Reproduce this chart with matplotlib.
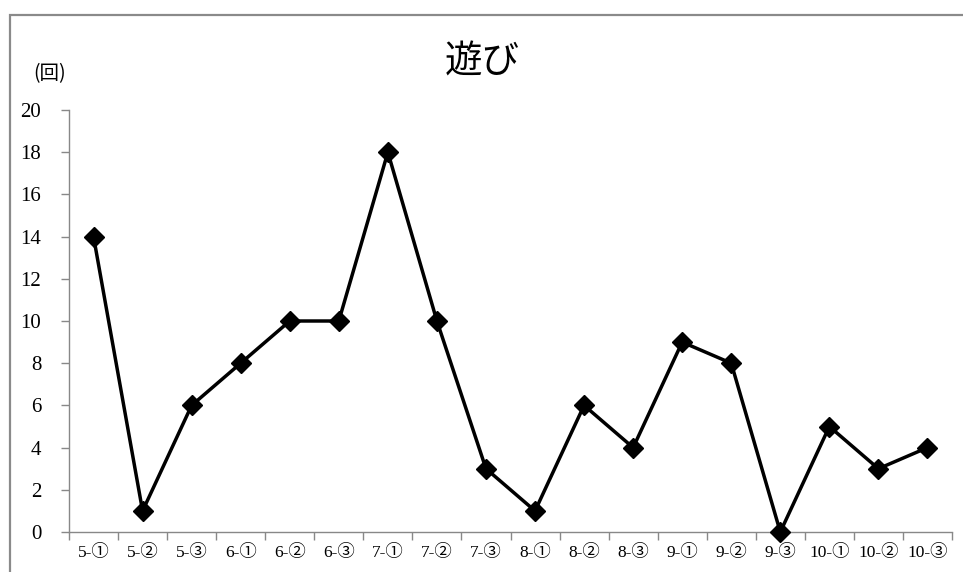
import matplotlib
matplotlib.use("Agg")
import matplotlib.pyplot as plt
from matplotlib.patches import Rectangle

# Play counts per session (month-session)
categories = ["5-①", "5-②", "5-③", "6-①", "6-②", "6-③", "7-①", "7-②", "7-③",
              "8-①", "8-②", "8-③", "9-①", "9-②", "9-③", "10-①", "10-②", "10-③"]
counts = [14, 1, 6, 8, 10, 10, 18, 10, 3, 1, 6, 4, 9, 8, 0, 5, 3, 4]
y_ticks = list(range(0, 21, 2))

W, H = 963, 572
fig = plt.figure(figsize=(W / 100, H / 100), dpi=100)
fig.patch.set_facecolor("white")

serif = ["Liberation Serif", "Noto Sans CJK JP"]
cjk = ["Noto Sans CJK JP", "DejaVu Sans"]

# Outer chart frame (top and left edges visible)
fig.patches.append(Rectangle((10 / W, -0.05), 1.2, (H - 15) / H + 0.05,
                             transform=fig.transFigure, fill=False,
                             edgecolor="#8a8a8a", linewidth=1.6))

ax = fig.add_axes([69 / W, 1 - 532 / H, (952 - 69) / W, (532 - 110) / H])
x = list(range(len(categories)))
ax.plot(x, counts, color="black", linewidth=2.5, marker="D", markersize=10,
        markerfacecolor="black", markeredgecolor="black", clip_on=False, zorder=3)

ax.set_xlim(-0.5, len(categories) - 0.5)
ax.set_ylim(0, 20)
ax.set_yticks(y_ticks)
ax.set_yticklabels([str(v) for v in y_ticks], family=serif, fontsize=15)
ax.set_xticks(x)
ax.set_xticklabels(categories, family=serif, fontsize=12.5)
ax.set_xticks([i - 0.5 for i in range(len(categories) + 1)], minor=True)

ax.tick_params(axis="x", which="major", length=0, pad=9)
ax.tick_params(axis="x", which="minor", length=6, width=1, color="#888888", direction="out")
ax.tick_params(axis="y", length=6, width=1, color="#888888", direction="out", pad=14)

for side in ("top", "right"):
    ax.spines[side].set_visible(False)
for side in ("left", "bottom"):
    ax.spines[side].set_color("#888888")
    ax.spines[side].set_linewidth(1.0)

fig.text(482 / W, 1 - 62 / H, "遊び", family=cjk, fontsize=27,
         ha="center", va="center")
fig.text(50 / W, 1 - 74 / H, "(回)", family=cjk, fontsize=14,
         ha="center", va="center")

fig.savefig("out.png", dpi=100, facecolor="white")
